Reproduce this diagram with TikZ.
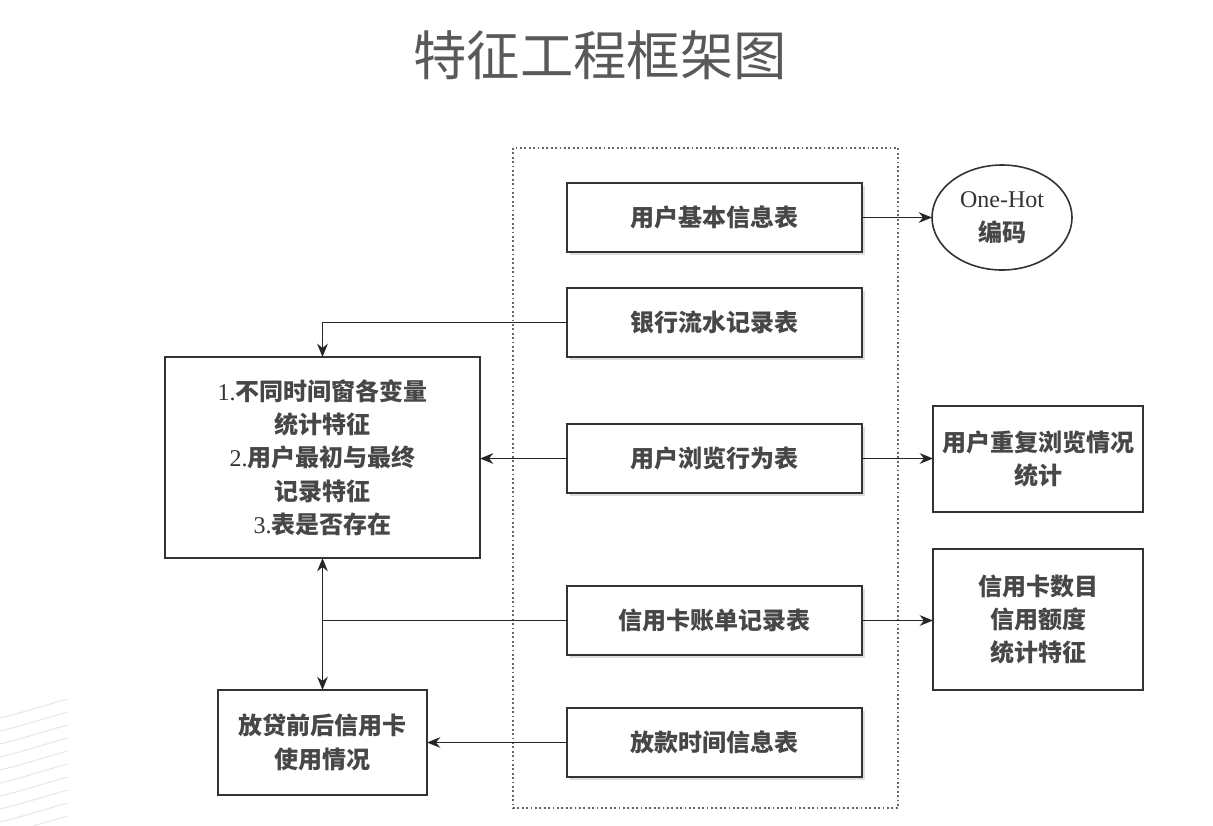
\documentclass[tikz,border=0pt]{standalone}
\usepackage{fontspec}
\setmainfont{Liberation Serif}
\newfontfamily\cjk{Noto Sans CJK SC}
\usetikzlibrary{arrows.meta,shapes.geometric,shadows}
\begin{document}
\begin{tikzpicture}[x=0.75pt,y=-0.75pt,
  box/.style={draw=black!80,line width=1.2pt,fill=white,inner sep=0pt,outer sep=0pt,align=center,
    font=\fontsize{18}{25}\selectfont\cjk\bfseries,text=black!72},
  midbox/.style={box,minimum width=221.25pt,minimum height=51.75pt,
    drop shadow={shadow xshift=2pt,shadow yshift=-2pt,fill=black!25}},
  conn/.style={draw=black!85,line width=1pt},
  arr/.style={conn,-{Stealth[length=10pt,width=8pt]}},
  darr/.style={conn,{Stealth[length=10pt,width=8pt]}-{Stealth[length=10pt,width=8pt]}}
]
\useasboundingbox (0,0) rectangle (1213,825);
\fill[white] (0,0) rectangle (1213,825);
% faint background lines
\foreach \i in {0,...,9}{
  \draw[black!9,line width=0.8pt] (0,{718+13*\i}) .. controls (25,{712+13*\i}) and (45,{705+13*\i}) .. (68,{699+13*\i});
}
% title
\node[font=\fontsize{40}{46}\selectfont\cjk,text=black!65] (title) at (600,55) {特征工程框架图};
% dotted frame
\draw[black!60,line width=1.3pt,dotted] (513,148) rectangle (898,808);
% middle boxes
\node[midbox] (m1) at (714.5,217.5) {用户基本信息表};
\node[midbox] (m2) at (714.5,322.5) {银行流水记录表};
\node[midbox] (m3) at (714.5,458.5) {用户浏览行为表};
\node[midbox] (m4) at (714.5,620.5) {信用卡账单记录表};
\node[midbox] (m5) at (714.5,742.5) {放款时间信息表};
% right
\node[ellipse,draw=black!80,line width=1.2pt,inner sep=0pt,outer sep=0pt,minimum width=105pt,minimum height=78.75pt,
  align=center,font=\fontsize{18}{25}\selectfont,text=black!80] (e1) at (1002,217.5) {One-Hot\\{\cjk\bfseries\color{black!72}编码}};
\node[box,minimum width=157.5pt,minimum height=79.5pt] (r1) at (1038,459) {用户重复浏览情况\\统计};
\node[box,minimum width=157.5pt,minimum height=105.75pt] (r2) at (1038,619.5) {信用卡数目\\信用额度\\统计特征};
% left
\node[box,minimum width=236.25pt,minimum height=150.75pt,font=\fontsize{18}{25}\selectfont,text=black!80] (l1) at (322.5,457.5)
  {1.{\cjk\bfseries\color{black!72}不同时间窗各变量}\\{\cjk\bfseries\color{black!72}统计特征}\\2.{\cjk\bfseries\color{black!72}用户最初与最终}\\{\cjk\bfseries\color{black!72}记录特征}\\3.{\cjk\bfseries\color{black!72}表是否存在}};
\node[box,minimum width=156.75pt,minimum height=78.75pt] (l2) at (322.5,742.5) {放贷前后信用卡\\使用情况};
% connectors
\draw[arr] (m1.east) -- (e1.west);
\draw[arr] (m3.east) -- (m3.east -| r1.west);
\draw[arr] (m4.east) -- (m4.east -| r2.west);
\draw[arr] (m2.west) -| (l1.north);
\draw[arr] (m3.west) -- (m3.west -| l1.east);
\coordinate (j) at (m4.west -| l1.south);
\draw[conn] (m4.west) -- (j);
\draw[darr] (l1.south) -- (l2.north);
\draw[arr] (m5.west) -- (m5.west -| l2.east);
\end{tikzpicture}
\end{document}
